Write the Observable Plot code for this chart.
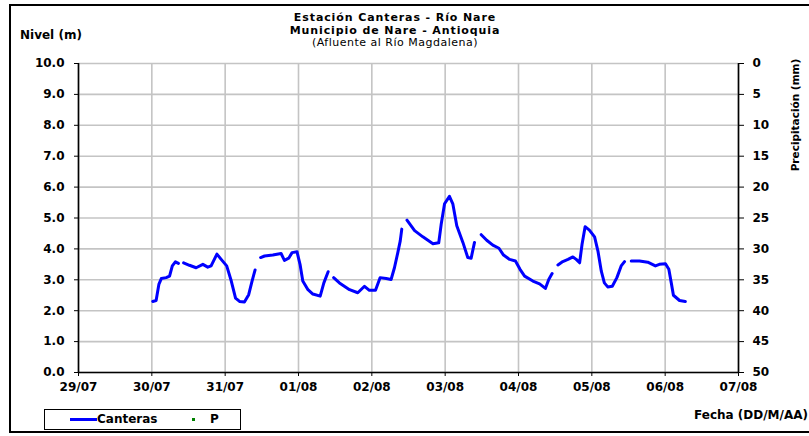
<!DOCTYPE html>
<html>
<head>
<meta charset="utf-8">
<script src="https://cdn.jsdelivr.net/npm/d3@7"></script>
<script src="https://cdn.jsdelivr.net/npm/@observablehq/plot@0.6"></script>
<style>
  html, body { margin: 0; padding: 0; background: #fff; }
  #wrap { position: relative; width: 809px; height: 436px; overflow: hidden; font-family: "DejaVu Sans", sans-serif; font-weight: bold; font-size: 12px; color: #000; }
  #frame { position: absolute; left: 9px; top: 4px; width: 820px; height: 429px; border: 2px solid #000; box-sizing: border-box; pointer-events: none; }
  #chart { position: absolute; left: 0; top: 0; }
  .abs { position: absolute; white-space: nowrap; }
  #title { left: 195px; top: 12px; width: 400px; text-align: center; line-height: 12.5px; font-size: 11px; letter-spacing: 0.9px; }
  #title .sub { font-weight: normal; letter-spacing: 0.5px; }
  #ylab { left: 20px; top: 28px; }
  #y2lab { left: 795px; top: 115px; transform: translate(-50%, -50%) rotate(-90deg); font-size: 10.5px; }
  #xlab { right: 1px; top: 408px; }
  #legend { left: 44px; top: 409px; width: 197px; height: 21px; border: 1.5px solid #000; box-sizing: border-box; }
  #legend .ln { position: absolute; left: 25px; top: 8px; width: 27px; height: 3px; background: #0000ff; }
  #legend .t1 { position: absolute; left: 52px; top: 2px; }
  #legend .dot { position: absolute; left: 147px; top: 8px; width: 3px; height: 3px; background: #008000; }
  #legend .t2 { position: absolute; left: 165px; top: 2px; }
</style>
</head>
<body>
<div id="wrap">
  <div id="chart"></div>
  <div id="frame"></div>
  <div id="title" class="abs">Estación Canteras - Río Nare<br>Municipio de Nare - Antioquia<br><span class="sub">(Afluente al Río Magdalena)</span></div>
  <div id="ylab" class="abs">Nivel (m)</div>
  <div id="y2lab" class="abs">Precipitación (mm)</div>
  <div id="xlab" class="abs">Fecha (DD/M/AA)</div>
  <div id="legend" class="abs"><span class="ln"></span><span class="t1">Canteras</span><span class="dot"></span><span class="t2">P</span></div>
</div>
<script>
// ---- data ----
const startDate = "2012-07-29T00:00:00Z";   // 29/07
const endDate   = "2012-08-07T00:00:00Z";   // 07/08

// hours since 29/07 00:00; null level = gap in record
const levelHours = [
  24.3,25.4,26.3,27.1,28.7,29.8,30.7,31.7,32.7, 33.5,
  34.4,36.3,38.5,40.7,42.3,43.4,45.3,46.7,48.5,50.0,51.4,52.7,54.3,55.7,56.8,57.8, 58.7,
  59.6,60.9,63.6,66.3,67.4,68.8,69.9,71.5,72.5,73.4,75.1,76.7,79.1,80.3,81.7, 82.6,
  83.5,85.4,88.7,91.4,93.6,95.2,97.2,98.7,100.7,102.3,103.4,104.5,105.3,105.8, 106.6,
  107.5,110.0,112.7,116.0,117.9,118.7,119.8,121.4,122.5,123.8,125.8,127.4,128.5,129.6, 130.7,
  131.8,133.6,135.6,137.6,139.1,141.1,143.0,144.5,146.0,148.7,150.9,152.8,153.9,155.0, 156.0,
  156.9,158.5,160.2,161.8,162.9,164.0,164.8,165.8,167.2,168.9,170.0,171.1,172.1,173.2,174.7,176.2,177.6,178.7, 179.8,
  180.9,183.6,186.3,188.8,190.1,192.1,193.2,194.0,194.7,196.7,198.6
];
const levelValues = [
  2.30,2.33,2.85,3.04,3.07,3.12,3.45,3.58,3.53, null,
  3.55,3.47,3.39,3.50,3.41,3.45,3.83,3.66,3.45,2.96,2.41,2.30,2.28,2.52,2.96,3.32, null,
  3.72,3.77,3.80,3.85,3.63,3.70,3.88,3.91,3.50,2.96,2.68,2.54,2.47,2.90,3.26, null,
  3.07,2.90,2.68,2.58,2.79,2.66,2.66,3.07,3.04,3.01,3.39,3.88,4.26,4.64, null,
  4.93,4.59,4.39,4.17,4.20,4.80,5.46,5.70,5.46,4.75,4.21,3.72,3.70,4.21, null,
  4.46,4.28,4.12,4.02,3.80,3.66,3.61,3.34,3.12,2.96,2.87,2.72,3.01,3.20, null,
  3.48,3.59,3.66,3.74,3.66,3.55,4.15,4.72,4.61,4.39,3.93,3.28,2.90,2.77,2.79,3.07,3.45,3.59, null,
  3.61,3.61,3.57,3.45,3.50,3.52,3.34,2.90,2.50,2.33,2.30
];

// precipitation series "P" (no values visible in the reference)
const precipHours = [];
const precipValues = [];

const levelTicks  = [0,1,2,3,4,5,6,7,8,9,10];
const precipTicks = [0,5,10,15,20,25,30,35,40,45,50];

// ---- build ----
const t0 = new Date(startDate), t1 = new Date(endDate);
const toDate = h => new Date(+t0 + h * 3600e3);
const level = levelHours.map((h, i) => ({t: toDate(h), v: levelValues[i]}));
const precip = precipHours.map((h, i) => ({t: toDate(h), p: precipValues[i]}));
const dayTicks = d3.utcDay.range(t0, d3.utcDay.offset(t1, 1));
const fmtDay = d3.utcFormat("%d/%m");
// right axis: precipitation 0 (top) .. 50 (bottom) aligned to level 10 .. 0
const precipToLevel = p => 10 - p / 5;

const grid = "#c4c4c4";
const chart = Plot.plot({
  width: 809,
  height: 436,
  marginLeft: 78,
  marginRight: 71,
  marginTop: 63,
  marginBottom: 64,
  style: {fontFamily: "DejaVu Sans, sans-serif", fontSize: "12px", fontWeight: "bold", color: "#000", background: "transparent"},
  x: {type: "utc", domain: [t0, t1]},
  y: {domain: [0, 10]},
  marks: [
    Plot.gridX(dayTicks, {stroke: grid, strokeOpacity: 1, strokeWidth: 1.6}),
    Plot.gridY(levelTicks, {stroke: grid, strokeOpacity: 1, strokeWidth: 1.6}),
    Plot.axisX(dayTicks, {anchor: "bottom", tickFormat: fmtDay, tickSize: 4, tickPadding: 6, label: null}),
    Plot.axisY(levelTicks, {anchor: "left", tickFormat: d3.format(".1f"), tickSize: 4, tickPadding: 10, label: null}),
    Plot.axisY(precipTicks.map(precipToLevel), {anchor: "right", tickFormat: d => String(Math.round((10 - d) * 5)), tickSize: 5, tickPadding: 9, label: null}),
    Plot.ruleX([t0, t1], {stroke: "#000", strokeWidth: 1.6}),
    Plot.ruleY([0], {stroke: "#000", strokeWidth: 1.6}),
    Plot.line(level, {x: "t", y: "v", stroke: "#0000ff", strokeWidth: 3, strokeLinejoin: "round", strokeLinecap: "round"}),
    Plot.dot(precip, {x: "t", y: d => precipToLevel(d.p), r: 1.5, fill: "#008000"})
  ]
});
document.getElementById("chart").appendChild(chart);
</script>
</body>
</html>
